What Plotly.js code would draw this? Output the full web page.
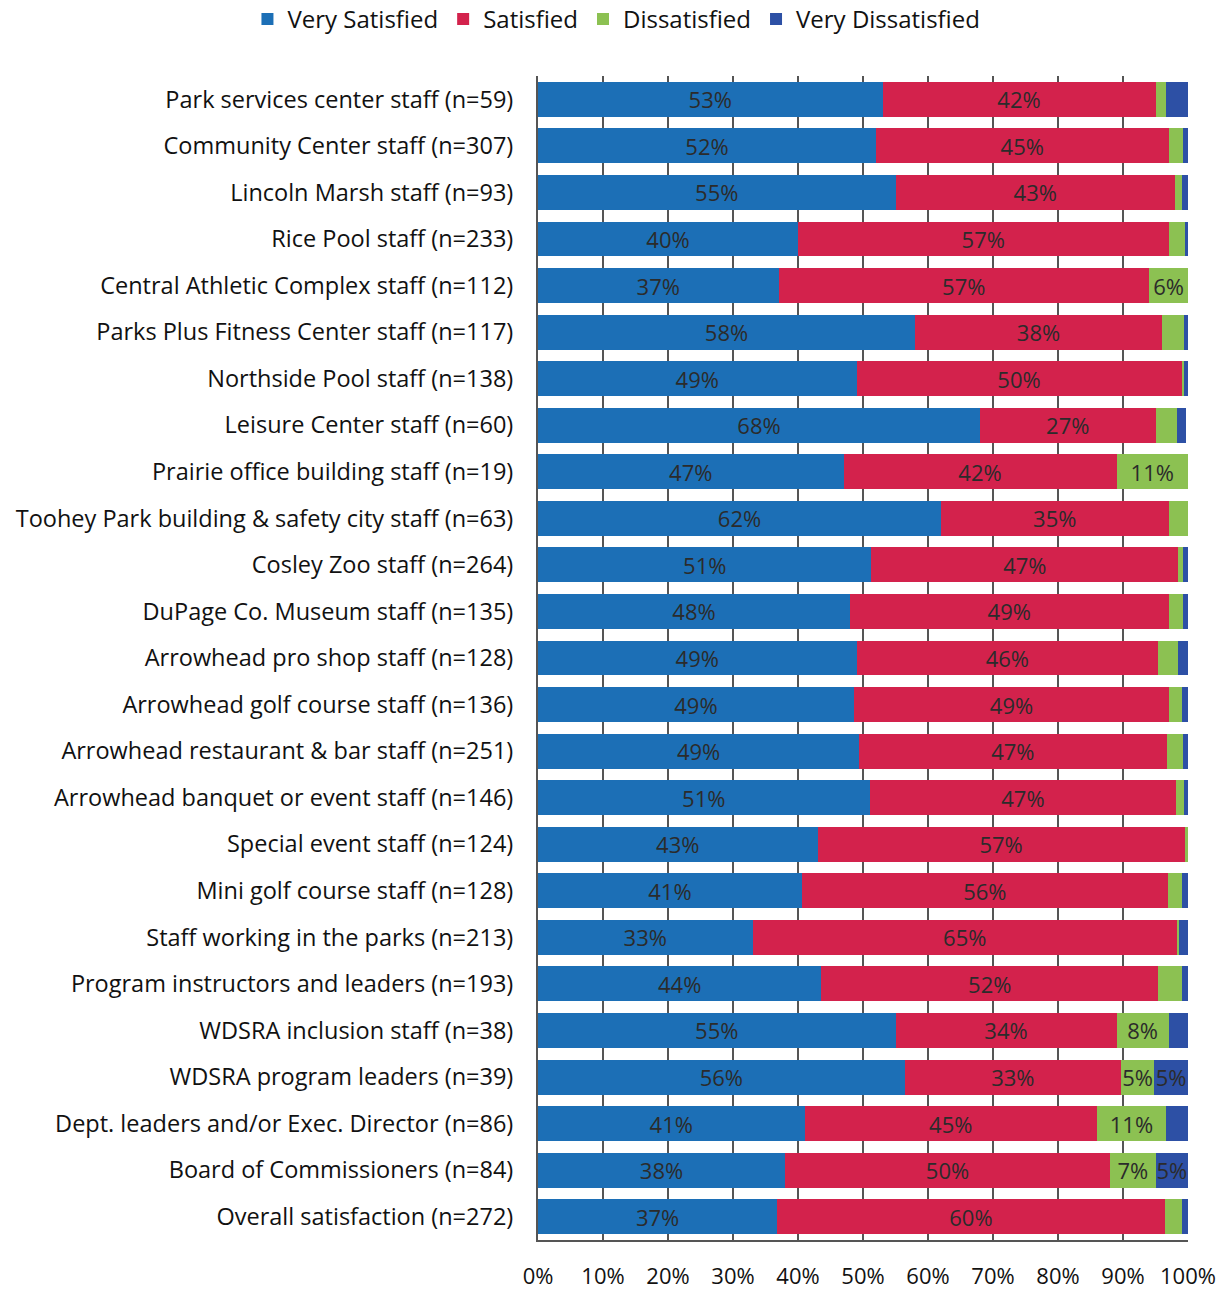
<!DOCTYPE html>
<html>
<head>
<meta charset="utf-8">
<script src="https://cdn.plot.ly/plotly-3.0.1.min.js"></script>
<style>html,body{margin:0;padding:0;background:#fff;}#chart{width:1224px;height:1289px;}</style>
</head>
<body>
<div id="chart"></div>
<script>
const categories = [
  "Park services center staff (n=59)",
  "Community Center staff (n=307)",
  "Lincoln Marsh staff (n=93)",
  "Rice Pool staff (n=233)",
  "Central Athletic Complex staff (n=112)",
  "Parks Plus Fitness Center staff (n=117)",
  "Northside Pool staff (n=138)",
  "Leisure Center staff (n=60)",
  "Prairie office building staff (n=19)",
  "Toohey Park building & safety city staff (n=63)",
  "Cosley Zoo staff (n=264)",
  "DuPage Co. Museum staff (n=135)",
  "Arrowhead pro shop staff (n=128)",
  "Arrowhead golf course staff (n=136)",
  "Arrowhead restaurant & bar staff (n=251)",
  "Arrowhead banquet or event staff (n=146)",
  "Special event staff (n=124)",
  "Mini golf course staff (n=128)",
  "Staff working in the parks (n=213)",
  "Program instructors and leaders (n=193)",
  "WDSRA inclusion staff (n=38)",
  "WDSRA program leaders (n=39)",
  "Dept. leaders and/or Exec. Director (n=86)",
  "Board of Commissioners (n=84)",
  "Overall satisfaction (n=272)"
];
const verySatisfied    = [53, 52, 55, 40, 37, 58, 49, 68, 47, 62, 51.3, 48, 49, 48.6, 49.4, 51, 43, 40.6, 33, 43.6, 55, 56.4, 41, 38, 36.8];
const satisfied        = [42, 45, 43, 57, 57, 38, 50, 27, 42, 35, 47.2, 49, 46.4, 48.5, 47.3, 47.2, 56.5, 56.3, 65.3, 51.8, 34, 33.3, 45, 50, 59.6];
const dissatisfied     = [1.6, 2.3, 1, 2.5, 6, 3.4, 0.4, 3.3, 11, 3, 0.8, 2.3, 3, 2, 2.6, 1.2, 0.5, 2.2, 0.3, 3.6, 8, 5.1, 10.6, 7, 2.6];
const veryDissatisfied = [3.4, 0.7, 1, 0.5, 0, 0.6, 0.6, 1.4, 0, 0, 0.7, 0.7, 1.6, 0.9, 0.7, 0.6, 0, 0.9, 1.4, 1.0, 3, 5.2, 3.4, 5, 1.0];

const seriesNames = ["Very Satisfied", "Satisfied", "Dissatisfied", "Very Dissatisfied"];
const seriesColors = ["#1c6fb6", "#d3224c", "#8cc152", "#2d50a5"];
const seriesData = [verySatisfied, satisfied, dissatisfied, veryDissatisfied];

const FONT = "'Open Sans', Lato, sans-serif";

const traces = seriesData.map((vals, i) => ({
  type: "bar",
  orientation: "h",
  name: seriesNames[i],
  y: categories,
  x: vals,
  marker: {color: seriesColors[i], line: {width: 0}},
  text: vals.map(v => v >= 4.5 ? Math.round(v) + "%" : ""),
  textposition: "inside",
  insidetextanchor: "middle",
  constraintext: "none",
  cliponaxis: false,
  textangle: 0,
  textfont: {family: FONT, size: 22, color: "#2b2b2b"},
  hoverinfo: "none"
}));

const layout = {
  width: 1224,
  height: 1289,
  barmode: "stack",
  bargap: 0.25,
  paper_bgcolor: "#fff",
  plot_bgcolor: "#fff",
  margin: {l: 538, r: 36, t: 76, b: 49, autoexpand: false},
  font: {family: FONT, size: 22, color: "#111"},
  showlegend: true,
  legend: {
    orientation: "h",
    x: -0.447, xanchor: "left",
    y: 1.068, yanchor: "top",
    yref: "paper",
    font: {family: FONT, size: 24, color: "#111"},
    itemwidth: 30,
    tracegroupgap: 0,
    traceorder: "normal",
    itemclick: false
  },
  xaxis: {
    range: [0, 100],
    dtick: 10,
    tick0: 0,
    ticksuffix: "%",
    showgrid: true,
    gridcolor: "#555",
    gridwidth: 1.5,
    zeroline: false,
    showline: true,
    linecolor: "#555",
    linewidth: 2,
    ticks: "",
    tickfont: {family: FONT, size: 22, color: "#111"},
    ticklabelstandoff: 16,
    fixedrange: true
  },
  yaxis: {
    autorange: "reversed",
    showline: true,
    linecolor: "#555",
    linewidth: 2,
    ticks: "",
    tickfont: {family: FONT, size: 23.5, color: "#111"},
    ticklabelstandoff: 18,
    fixedrange: true
  }
};

Plotly.newPlot("chart", traces, layout, {displayModeBar: false, staticPlot: true});
</script>
</body>
</html>
